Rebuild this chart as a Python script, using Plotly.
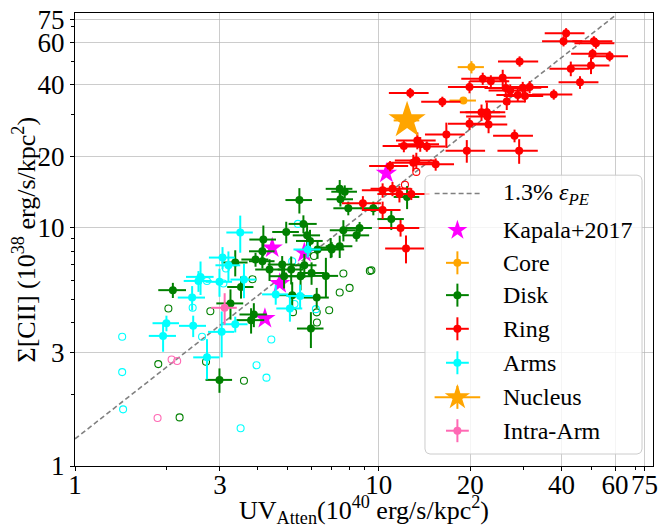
import numpy as np
import plotly.graph_objects as go

SERIF = "Liberation Serif, Times New Roman, serif"

# Surface densities: x = attenuated UV (1e40 erg/s/kpc^2), y = [CII] (1e38 erg/s/kpc^2)

# Ring
ring_x = [41.4, 40.6, 51.1, 51.9, 50.6, 57.6, 50.0, 42.9, 46.0, 29.1,
          22.0, 23.4, 25.6, 19.9, 26.2, 27.1, 29.8, 31.4, 28.7, 30.3,
          37.7, 12.7, 16.2, 26.4, 21.8, 22.7, 22.8, 19.9, 23.0, 16.7,
          28.0, 13.4, 12.1, 13.7, 14.4, 29.0, 19.5, 13.3, 13.0, 15.4,
          10.9, 10.3, 11.1, 11.7, 12.8, 10.3, 11.8, 12.3, 8.87]
ring_y = [65.8, 60.9, 60.9, 59.7, 53.9, 52.7, 48.2, 46.7, 40.9, 50.1,
          42.4, 41.3, 42.8, 39.1, 38.7, 37.8, 38.8, 39.1, 36.2, 35.8,
          36.4, 36.9, 33.9, 34.0, 30.6, 30.6, 29.4, 27.4, 27.2, 24.7,
          24.4, 23.3, 22.1, 22.5, 22.0, 21.1, 21.1, 19.2, 18.8, 18.5,
          18.2, 14.4, 14.6, 13.9, 13.9, 11.9, 10.0, 8.2, 12.7]
ring_xerr = [6.2, 6.1, 7.7, 7.8, 7.6, 8.6, 7.5, 6.4, 6.9, 4.4,
             3.3, 3.5, 3.8, 3.0, 3.9, 4.1, 4.5, 4.7, 4.3, 4.5,
             5.7, 1.9, 2.4, 4.0, 3.3, 3.4, 3.4, 3.0, 3.5, 2.5,
             4.2, 2.0, 1.8, 2.1, 2.2, 4.4, 2.9, 2.0, 2.0, 2.3,
             1.6, 1.5, 1.7, 1.8, 1.9, 1.5, 1.8, 1.8, 1.3]
ring_yerr = [3.3, 3.0, 3.0, 3.0, 2.7, 2.6, 3.9, 3.3, 2.5, 2.5,
             2.5, 2.5, 3.4, 2.3, 3.1, 2.3, 2.3, 2.3, 2.2, 2.1,
             1.8, 1.8, 1.7, 2.7, 2.4, 3.1, 2.4, 1.6, 2.2, 3.0,
             1.5, 1.9, 1.3, 1.6, 1.1, 2.5, 2.3, 1.5, 1.5, 1.1,
             0.9, 1.0, 1.0, 1.1, 0.8, 1.0, 0.8, 1.1, 0.9]
ring_open_x = [13.3, 12.2]
ring_open_y = [17.2, 15.2]

# Core
core_x = [20.2, 19.0]
core_y = [47.4, 34.3]
core_xerr = [2.0, 1.9]
core_yerr = [2.8, 0.5]

# Nucleus
nucleus_x = [12.4]
nucleus_y = [28.3]
nucleus_xerr = [1.2]
nucleus_yerr = [1.5]

# Disk
disk_x = [12.4, 11.0, 9.60, 7.44, 7.73, 7.48, 7.94, 5.48, 5.65, 4.96,
          4.17, 7.65, 8.65, 8.45, 7.44, 5.81, 5.94, 6.95, 2.10, 3.25,
          3.52, 3.37, 4.14, 3.93, 4.14, 4.37, 4.81, 5.15, 5.53, 5.69,
          6.29, 7.00, 6.01, 6.70, 5.19, 6.25, 4.88, 3.88, 3.80, 5.98,
          2.99]
disk_y = [13.5, 10.9, 12.1, 14.6, 14.2, 13.2, 12.1, 13.1, 10.4, 9.62,
          8.94, 9.78, 10.0, 9.31, 8.38, 9.31, 8.82, 8.27, 5.48, 4.82,
          5.65, 7.16, 7.98, 7.37, 7.25, 6.69, 7.02, 6.69, 6.27, 6.97,
          8.12, 8.12, 6.47, 6.29, 5.22, 5.10, 6.27, 4.33, 4.10, 3.78,
          2.30]
disk_xerr = [1.2, 1.1, 0.9, 0.75, 0.75, 0.75, 0.85, 0.55, 0.6, 0.5,
             0.42, 0.75, 0.85, 0.85, 0.75, 0.6, 0.6, 0.7, 0.22, 0.33,
             0.35, 0.33, 0.4, 0.4, 0.4, 0.45, 0.5, 0.5, 0.55, 0.55,
             0.6, 0.7, 0.6, 0.65, 0.5, 0.6, 0.5, 0.4, 0.4, 0.6,
             0.3]
disk_yerr = [1.5, 1.1, 0.8, 1.3, 0.9, 0.9, 0.8, 1.6, 0.9, 1.0,
             1.3, 1.0, 0.6, 0.55, 0.9, 1.2, 1.0, 0.8, 0.4, 0.7,
             0.6, 0.9, 1.0, 0.5, 0.5, 0.7, 0.6, 0.9, 0.8, 0.8,
             0.7, 0.6, 0.7, 1.2, 0.7, 0.5, 0.7, 0.5, 0.5, 0.65,
             0.27]
disk_open_x = [2.03, 2.79, 3.84, 1.88, 2.70, 3.60, 2.21, 6.12, 7.65, 7.44,
               8.02, 6.87, 6.25, 6.26, 9.35, 9.46, 5.22]
disk_open_y = [4.59, 4.47, 6.09, 2.68, 2.74, 2.28, 1.60, 7.63, 6.44, 5.36,
               5.60, 4.51, 4.42, 4.01, 6.60, 6.64, 4.43]

# Arms
arms_x = [3.50, 3.06, 3.20, 2.59, 2.55, 2.99, 3.60, 2.43, 2.00, 2.45,
          1.95, 3.04, 3.37, 2.72, 4.58, 5.51, 5.10, 5.84]
arms_y = [9.57, 7.51, 6.97, 6.23, 5.99, 5.94, 6.07, 5.10, 3.98, 3.88,
          3.52, 3.66, 3.94, 2.86, 5.26, 5.18, 4.59, 8.12]
arms_xerr = [0.35, 0.3, 0.3, 0.27, 0.27, 0.3, 0.35, 0.25, 0.2, 0.25,
             0.2, 0.3, 0.33, 0.27, 0.45, 0.55, 0.5, 0.6]
arms_yerr = [1.7, 0.8, 1.0, 1.0, 0.6, 0.8, 1.0, 0.6, 0.3, 0.4,
             0.5, 0.8, 0.3, 0.55, 0.5, 0.6, 0.55, 0.6]
arms_open_x = [1.43, 1.43, 1.44, 2.44, 2.62, 2.72, 3.08, 3.14, 3.96, 4.27,
               4.43, 3.51, 5.19, 6.21, 5.42, 5.28]
arms_open_y = [3.49, 2.48, 1.73, 4.62, 3.49, 5.99, 5.84, 6.76, 2.65, 2.35,
               3.40, 1.44, 7.25, 4.56, 10.4, 4.79]

# Intra-Arm
intra_x = [3.11]
intra_y = [4.62]
intra_xerr = [0.3]
intra_yerr = [0.7]
intra_open_x = [2.08, 2.17, 1.87]
intra_open_y = [2.80, 2.76, 1.59]

# Kapala+2017
kapala_x = [10.6, 4.46, 4.72, 4.22, 5.69]
kapala_y = [17.0, 8.24, 5.84, 4.17, 7.88]

# Photoelectric-efficiency reference line: [CII] = eff * UV (1e40 -> 1e38 units)
PE_EFF = 0.013
line_x = np.array([1.0, 60.0])
line_y = PE_EFF * line_x * 100.0

tick_vals = [1, 3, 10, 20, 40, 60, 75]
tick_text = ["1", "3", "10", "20", "40", "60", "75"]
minor_vals = [2, 4, 5, 6, 7, 8, 9, 30, 50, 70]

MAGENTA = "#ff00ff"
ORANGE = "#ffa500"
GREEN = "#008000"
RED = "#ff0000"
CYAN = "#00ffff"
PINK = "#ff69b4"

fig = go.Figure()


def add_open(x, y, color):
    fig.add_trace(go.Scatter(
        x=x, y=y, mode="markers", showlegend=False, hoverinfo="skip",
        marker=dict(symbol="circle-open", size=7, color=color,
                    line=dict(width=1.1, color=color))))


def add_points(x, y, ex, ey, color, symbol="circle", size=8):
    fig.add_trace(go.Scatter(
        x=x, y=y, mode="markers", showlegend=False, hoverinfo="skip",
        marker=dict(symbol=symbol, size=size, color=color, line=dict(width=0)),
        error_x=dict(type="data", array=ex, color=color, thickness=2, width=0),
        error_y=dict(type="data", array=ey, color=color, thickness=2, width=0)))


fig.add_trace(go.Scatter(
    x=line_x, y=line_y, mode="lines", showlegend=False, hoverinfo="skip",
    line=dict(color="#808080", width=1.6, dash="5px,3px")))

add_open(disk_open_x, disk_open_y, GREEN)
add_open(arms_open_x, arms_open_y, CYAN)
add_open(intra_open_x, intra_open_y, PINK)
add_open(ring_open_x, ring_open_y, RED)

fig.add_trace(go.Scatter(
    x=kapala_x, y=kapala_y, mode="markers", showlegend=False, hoverinfo="skip",
    marker=dict(symbol="star", size=16, color=MAGENTA, line=dict(width=0))))
add_points(core_x, core_y, core_xerr, core_yerr, ORANGE)
add_points(disk_x, disk_y, disk_xerr, disk_yerr, GREEN)
add_points(ring_x, ring_y, ring_xerr, ring_yerr, RED)
add_points(arms_x, arms_y, arms_xerr, arms_yerr, CYAN)
add_points(nucleus_x, nucleus_y, nucleus_xerr, nucleus_yerr, ORANGE,
           symbol="star", size=28)
add_points(intra_x, intra_y, intra_xerr, intra_yerr, PINK)

# ---- legend panel, drawn on an overlaid unit-square axis pair ----
PLOT_W, PLOT_H = 583.0, 453.3
bx0, bx1, by0, by1 = 0.6055, 0.981, 0.0265, 0.642
rx, ry = 5 / PLOT_W, 5 / PLOT_H
t = np.linspace(0, np.pi / 2, 8)
corners = [
    (bx1 - rx, by1 - ry, 0.0),
    (bx0 + rx, by1 - ry, np.pi / 2),
    (bx0 + rx, by0 + ry, np.pi),
    (bx1 - rx, by0 + ry, 1.5 * np.pi),
]
px, py = [], []
for cx, cy, a0 in corners:
    px.extend(cx + rx * np.cos(a0 + t))
    py.extend(cy + ry * np.sin(a0 + t))
px.append(px[0])
py.append(py[0])
fig.add_trace(go.Scatter(
    x=px, y=py, xaxis="x2", yaxis="y2", mode="lines", fill="toself",
    fillcolor="rgba(255,255,255,0.8)", line=dict(color="#cccccc", width=1),
    showlegend=False, hoverinfo="skip"))

row_y = [0.6015, 0.5206, 0.4485, 0.3772, 0.3029, 0.2279, 0.1515, 0.0779]
sx = 0.6616
text_x = 0.7376
ex_s, ey_s = 11.5 / PLOT_W, 11.5 / PLOT_H

fig.add_trace(go.Scatter(
    x=[sx - 23 / PLOT_W, sx + 23 / PLOT_W], y=[row_y[0], row_y[0]],
    xaxis="x2", yaxis="y2", mode="lines", showlegend=False, hoverinfo="skip",
    line=dict(color="#808080", width=1.6, dash="5px,3px")))
fig.add_trace(go.Scatter(
    x=[sx], y=[row_y[1]], xaxis="x2", yaxis="y2", mode="markers",
    showlegend=False, hoverinfo="skip",
    marker=dict(symbol="star", size=15, color=MAGENTA, line=dict(width=0))))

samples = [
    (row_y[2], ORANGE, "circle", 8, ex_s),
    (row_y[3], GREEN, "circle", 8, ex_s),
    (row_y[4], RED, "circle", 8, ex_s),
    (row_y[5], CYAN, "circle", 8, ex_s),
    (row_y[6], ORANGE, "star", 19, 23 / PLOT_W),
    (row_y[7], PINK, "circle", 8, ex_s),
]
for yy, col, sym, sz, exv in samples:
    fig.add_trace(go.Scatter(
        x=[sx], y=[yy], xaxis="x2", yaxis="y2", mode="markers",
        showlegend=False, hoverinfo="skip",
        marker=dict(symbol=sym, size=sz, color=col, line=dict(width=0)),
        error_x=dict(type="constant", value=exv, color=col, thickness=2, width=0),
        error_y=dict(type="constant", value=ey_s, color=col, thickness=2, width=0)))

labels = ["1.3% <i>ε</i><sub><i>PE</i></sub>", "Kapala+2017", "Core", "Disk",
          "Ring", "Arms", "Nucleus", "Intra-Arm"]
for lab, yy in zip(labels, row_y):
    fig.add_annotation(x=text_x, y=yy, xref="x2", yref="y2", text=lab,
                       showarrow=False, xanchor="left", yanchor="middle",
                       font=dict(family=SERIF, size=24, color="black"))

# Axis titles
fig.add_annotation(
    x=0.5, y=0, xref="paper", yref="paper", xanchor="center", yanchor="middle",
    yshift=-44, showarrow=False,
    text="UV<sub>Atten</sub>(10<sup>40</sup> erg/s/kpc<sup>2</sup>)",
    font=dict(family=SERIF, size=26, color="black"))
fig.add_annotation(
    x=0, y=0.5, xref="paper", yref="paper", xanchor="center", yanchor="middle",
    xshift=-50, showarrow=False, textangle=-90,
    text="Σ[CII] (10<sup>38</sup> erg/s/kpc<sup>2</sup>)",
    font=dict(family=SERIF, size=26, color="black"))

axis_common = dict(
    type="log",
    range=[0, np.log10(80)],
    tickvals=tick_vals,
    ticktext=tick_text,
    ticks="outside",
    ticklen=4,
    tickwidth=1,
    tickcolor="black",
    showline=True,
    linecolor="black",
    linewidth=1.2,
    mirror=True,
    showgrid=True,
    gridcolor="rgba(176,176,176,0.65)",
    gridwidth=1.3,
    zeroline=False,
    tickfont=dict(family=SERIF, size=27, color="black"),
    minor=dict(tickvals=minor_vals, ticks="outside", ticklen=2.5,
               tickwidth=0.8, tickcolor="black", showgrid=False),
)

fig.update_layout(
    width=663,
    height=527,
    margin=dict(l=75, r=5, t=13, b=61),
    paper_bgcolor="white",
    plot_bgcolor="white",
    showlegend=False,
    font=dict(family=SERIF, color="black"),
    xaxis=dict(axis_common, ticklabelstandoff=-10),
    yaxis=axis_common,
    xaxis2=dict(overlaying="x", anchor="y2", range=[0, 1], visible=False,
                fixedrange=True),
    yaxis2=dict(overlaying="y", anchor="x2", range=[0, 1], visible=False,
                fixedrange=True),
)

fig.write_html("out.html")
